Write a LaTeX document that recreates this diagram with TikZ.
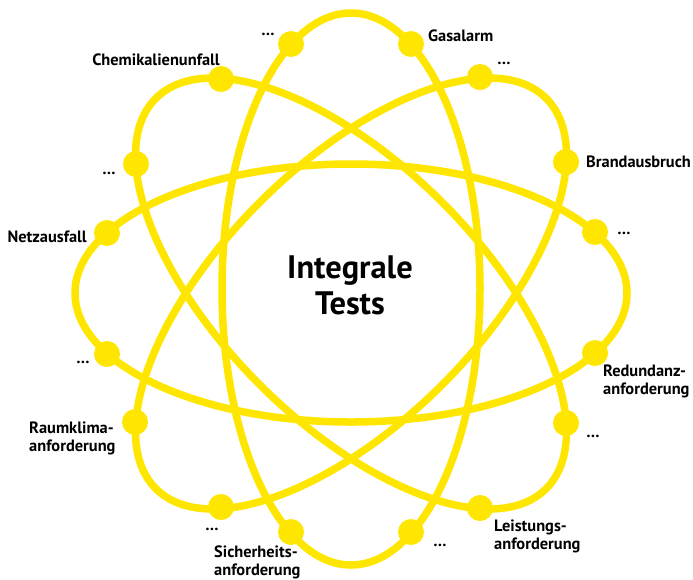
\documentclass[tikz,border=0pt]{standalone}
\usepackage{fontspec}
\setmainfont{PT Sans}
\definecolor{ylw}{RGB}{255,230,0}
\begin{document}
\begin{tikzpicture}[x=1pt,y=-1pt,
  orbit/.style={draw=ylw, line width=7.5pt},
  dot/.style={circle, fill=ylw, minimum size=26pt, inner sep=0pt},
  lbl/.style={font=\fontsize{16.4}{18}\selectfont\bfseries, inner sep=0pt, align=left},
  ttl/.style={font=\fontsize{32.5}{36}\selectfont\bfseries, inner sep=0pt, align=center}]
\useasboundingbox (0,0) rectangle (693,579);
% orbits
\draw[orbit] (351,293) ellipse [x radius=276pt, y radius=129pt];
\draw[orbit] (351,289) ellipse [x radius=129pt, y radius=276pt];
\draw[orbit, rotate around={45:(351,293.5)}] (351,293.5) ellipse [x radius=276pt, y radius=129pt];
\draw[orbit, rotate around={-45:(351,293.5)}] (351,293.5) ellipse [x radius=276pt, y radius=129pt];
% dots
\node[dot] (d1) at (291,44) {};
\node[dot] (d2) at (411,44) {};
\node[dot] (d3) at (221,79) {};
\node[dot] (d4) at (480,77) {};
\node[dot] (d5) at (136,164) {};
\node[dot] (d6) at (566,162) {};
\node[dot] (d7) at (107,233) {};
\node[dot] (d8) at (595,232) {};
\node[dot] (d9) at (107,354) {};
\node[dot] (d10) at (595,353) {};
\node[dot] (d11) at (135,422) {};
\node[dot] (d12) at (566,423) {};
\node[dot] (d13) at (221,507) {};
\node[dot] (d14) at (480,508) {};
\node[dot] (d15) at (291,532) {};
\node[dot] (d16) at (411,532) {};
% labels
\node[lbl, anchor=base] (l1) at (268,35) {…};
\node[lbl, anchor=base east] (l3) at (220,65) {Chemikalienunfall};
\node[lbl, anchor=base] (l5) at (109,174) {…};
\node[lbl, anchor=base east] (l7) at (87,242) {Netzausfall};
\node[lbl, anchor=base west] (l2) at (428,41) {Gasalarm};
\node[lbl, anchor=base] (l4) at (504,64) {…};
\node[lbl, anchor=base west] (l6) at (586,167) {Brandausbruch};
\node[lbl, anchor=base] (l8) at (624,234) {…};
\node[lbl, anchor=base west] (l10) at (603,394) {Redundanz-\\anforderung};
\node[lbl, anchor=base] (l12) at (593,437) {…};
\node[lbl, anchor=base west] (l14) at (494,549) {Leistungs-\\anforderung};
\node[lbl, anchor=base] (l16) at (440,546) {…};
\node[lbl, anchor=base west] (l15) at (214,575) {Sicherheits-\\anforderung};
\node[lbl, anchor=base] (l13) at (212,530) {…};
\node[lbl, anchor=base west] (l11) at (29,451) {Raumklima-\\anforderung};
\node[lbl, anchor=base] (l9) at (83,363) {…};
\node[ttl, anchor=base] (title) at (350,314) {Integrale\\Tests};
\end{tikzpicture}
\end{document}
